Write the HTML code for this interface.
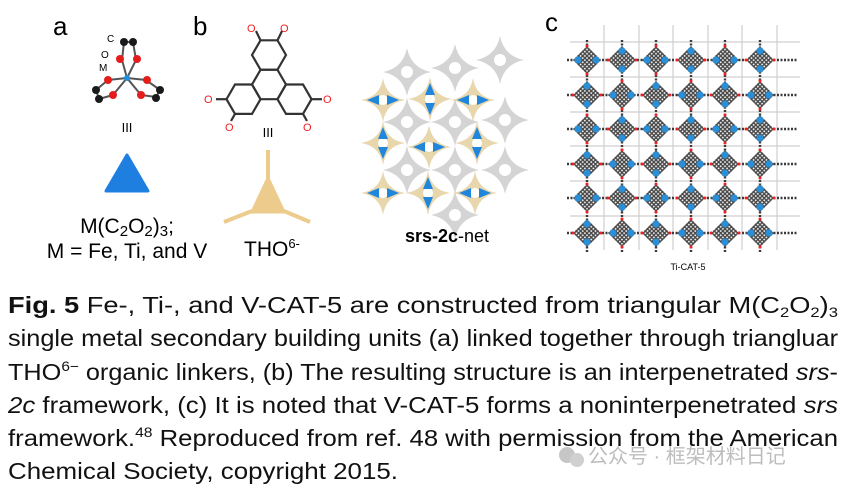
<!DOCTYPE html>
<html><head><meta charset="utf-8"><style>
html,body{margin:0;padding:0;background:#fff;width:849px;height:489px;overflow:hidden}
svg{display:block}
</style></head><body>
<svg width="849" height="489" viewBox="0 0 849 489" xmlns="http://www.w3.org/2000/svg" font-family="Liberation Sans, sans-serif">
<defs>
<g id="star">
 <path d="M0,-24 Q4,-4 24,0 Q4,4 0,24 Q-4,4 -24,0 Q-4,-4 0,-24Z" fill="#d4d4d4"/>
 <circle r="6" fill="#fff"/>
</g>
<g id="tstar">
 <path d="M0,-22 Q3,-3 22,0 Q3,3 0,22 Q-3,3 -22,0 Q-3,-3 0,-22Z" fill="#e8d6ad"/>
 <circle r="5" fill="#fff"/>
</g>
<g id="bl"><path d="M-16,0 L-4,-5 L-4,5Z" fill="#1f86dc"/><path d="M16,0 L4,-5 L4,5Z" fill="#1f86dc"/></g>
<g id="bv"><path d="M0,-16 L-5,-4 L5,-4Z" fill="#1f86dc"/><path d="M0,16 L-5,4 L5,4Z" fill="#1f86dc"/></g>
<pattern id="hatch" width="3" height="3" patternUnits="userSpaceOnUse">
 <rect width="3" height="3" fill="#444"/><rect x="0.8" y="0.8" width="1.6" height="1.6" fill="#fff"/>
</pattern>
<g id="nodeH">
 <rect x="-10" y="-10" width="20" height="20" transform="rotate(45)" fill="url(#hatch)"/>
 <circle cx="-9" r="3.6" fill="#2a8fd6"/><circle cx="9" r="3.6" fill="#2a8fd6"/>
 <circle cx="0" cy="-14" r="1.5" fill="#e22"/><circle cx="0" cy="14" r="1.5" fill="#e22"/>
</g>
<g id="nodeV">
 <rect x="-10" y="-10" width="20" height="20" transform="rotate(45)" fill="url(#hatch)"/>
 <circle cy="-9" r="3.6" fill="#2a8fd6"/><circle cy="9" r="3.6" fill="#2a8fd6"/>
 <circle cx="-14" r="1.5" fill="#e22"/><circle cx="14" r="1.5" fill="#e22"/>
</g>
<polygon id="hex" points="17,0 8.5,-14.7 -8.5,-14.7 -17,0 -8.5,14.7 8.5,14.7" fill="none" stroke="#333" stroke-width="2.2"/>
</defs>

<text x="53" y="35" font-size="26">a</text>
<text x="193" y="35" font-size="26">b</text>
<text x="545" y="31" font-size="26">c</text>

<g stroke="#555" stroke-width="2">
 <line x1="127" y1="78" x2="122" y2="60"/><line x1="127" y1="78" x2="136" y2="60"/>
 <line x1="127" y1="78" x2="108" y2="80"/><line x1="127" y1="78" x2="146" y2="80"/>
 <line x1="127" y1="78" x2="113" y2="95"/><line x1="127" y1="78" x2="141" y2="95"/>
 <line x1="122" y1="60" x2="124" y2="42"/><line x1="136" y1="60" x2="133" y2="42"/><line x1="124" y1="42" x2="133" y2="42"/>
 <line x1="108" y1="80" x2="96" y2="90"/><line x1="113" y1="95" x2="99" y2="99"/><line x1="96" y1="90" x2="99" y2="99"/>
 <line x1="146" y1="80" x2="160" y2="90"/><line x1="141" y1="95" x2="156" y2="97"/><line x1="160" y1="90" x2="156" y2="97"/>
</g>
<g fill="#1a1a1a"><circle cx="124" cy="42" r="4"/><circle cx="133" cy="42" r="4"/><circle cx="96" cy="90" r="4"/><circle cx="99" cy="99" r="4"/><circle cx="160" cy="90" r="4"/><circle cx="156" cy="98" r="4"/></g>
<g fill="#e51c1c"><circle cx="120" cy="59" r="4"/><circle cx="137" cy="59" r="4"/><circle cx="108" cy="80" r="4"/><circle cx="147" cy="80" r="4"/><circle cx="113" cy="95" r="4"/><circle cx="141" cy="95" r="4"/></g>
<circle cx="127" cy="78" r="3" fill="#1e90e0"/>
<text x="107" y="42" font-size="10">C</text><text x="101" y="58" font-size="10">O</text><text x="99" y="71" font-size="10">M</text>
<text x="127" y="132" font-size="13" text-anchor="middle">III</text>
<path d="M127,155 L148,191 L106,191Z" fill="#1f7fe0" stroke="#1f7fe0" stroke-width="3" stroke-linejoin="round"/>
<text x="127" y="233" font-size="21" text-anchor="middle">M(C<tspan font-size="15" dy="3">2</tspan><tspan dy="-3">O</tspan><tspan font-size="15" dy="3">2</tspan><tspan dy="-3">)</tspan><tspan font-size="15" dy="3">3</tspan><tspan dy="-3">;</tspan></text>
<text x="127" y="258" font-size="21" text-anchor="middle">M = Fe, Ti, and V</text>

<use href="#hex" x="269" y="55"/>
<use href="#hex" x="269" y="84.5"/>
<use href="#hex" x="243.5" y="99.2"/>
<use href="#hex" x="294.5" y="99.2"/>
<g stroke="#333" stroke-width="2.2">
 <line x1="260.5" y1="40.3" x2="256" y2="31"/><line x1="277.5" y1="40.3" x2="282" y2="31"/>
 <line x1="226.5" y1="99.2" x2="216" y2="99.2"/><line x1="235" y1="113.9" x2="231" y2="121"/>
 <line x1="311.5" y1="99.2" x2="322" y2="99.2"/><line x1="303" y1="113.9" x2="307" y2="121"/>
</g>
<g fill="#e22" font-size="11"><text x="247" y="32">O</text><text x="280" y="32">O</text><text x="204" y="103">O</text><text x="323" y="103">O</text><text x="225" y="131">O</text><text x="303" y="131">O</text></g>
<text x="268" y="137" font-size="13" text-anchor="middle">III</text>
<g fill="#eccb8c" stroke="#eccb8c">
 <path d="M268,178 L284,212 L252,212Z" stroke-width="3" stroke-linejoin="round"/>
 <line x1="268" y1="150" x2="268" y2="180" stroke-width="4"/>
 <line x1="252" y1="211" x2="224" y2="222" stroke-width="4"/>
 <line x1="284" y1="211" x2="310" y2="222" stroke-width="4"/>
</g>
<text x="244" y="256" font-size="21">THO<tspan font-size="13" dy="-8">6-</tspan></text>

<g>
 <use href="#star" x="407" y="72"/><use href="#star" x="455" y="68"/><use href="#star" x="500" y="60"/>
 <use href="#star" x="407" y="122"/><use href="#star" x="455" y="122"/><use href="#star" x="505" y="120"/>
 <use href="#star" x="407" y="170"/><use href="#star" x="455" y="170"/><use href="#star" x="505" y="170"/>
 <use href="#star" x="455" y="215"/>
 <use href="#tstar" x="383" y="100"/><use href="#tstar" x="430" y="99"/><use href="#tstar" x="473" y="100"/>
 <use href="#tstar" x="383" y="143"/><use href="#tstar" x="429" y="147"/><use href="#tstar" x="477" y="143"/>
 <use href="#tstar" x="383" y="193"/><use href="#tstar" x="428" y="193"/><use href="#tstar" x="475" y="193"/>
 <use href="#bl" x="383" y="100"/><use href="#bv" x="430" y="99"/><use href="#bl" x="473" y="100"/>
 <use href="#bv" x="383" y="143"/><use href="#bl" x="429" y="147"/><use href="#bv" x="477" y="143"/>
 <use href="#bl" x="383" y="193"/><use href="#bv" x="428" y="193"/><use href="#bl" x="475" y="193"/>
</g>
<text x="447" y="242" font-size="18" text-anchor="middle"><tspan font-weight="bold">srs-2c</tspan>-net</text>

<g stroke="#cfcfcf" stroke-width="1.2" fill="none">
 <path d="M570,42 L800,42 M570,77 L800,77 M570,112 L800,112 M570,146 L800,146 M570,181 L800,181 M570,216 L800,216"/>
 <path d="M604,25 L604,250 M639,25 L639,250 M673,25 L673,250 M708,25 L708,250 M742,25 L742,250 M777,25 L777,250"/>
</g>
<g stroke="#3a3a3a" stroke-width="2.4" stroke-dasharray="2 1.5">
 <path d="M567,60 L797,60 M567,95 L797,95 M567,129 L797,129 M567,164 L797,164 M567,198 L797,198 M567,233 L797,233"/>
 <path d="M587,40 L587,253 M622,40 L622,253 M656,40 L656,253 M691,40 L691,253 M725,40 L725,253 M760,40 L760,253"/>
</g>
<g>
 <use href="#nodeH" x="587" y="60"/><use href="#nodeV" x="622" y="60"/><use href="#nodeH" x="656" y="60"/><use href="#nodeV" x="691" y="60"/><use href="#nodeH" x="725" y="60"/><use href="#nodeV" x="760" y="60"/>
 <use href="#nodeV" x="587" y="95"/><use href="#nodeH" x="622" y="95"/><use href="#nodeV" x="656" y="95"/><use href="#nodeH" x="691" y="95"/><use href="#nodeV" x="725" y="95"/><use href="#nodeH" x="760" y="95"/>
 <use href="#nodeH" x="587" y="129"/><use href="#nodeV" x="622" y="129"/><use href="#nodeH" x="656" y="129"/><use href="#nodeV" x="691" y="129"/><use href="#nodeH" x="725" y="129"/><use href="#nodeV" x="760" y="129"/>
 <use href="#nodeV" x="587" y="164"/><use href="#nodeH" x="622" y="164"/><use href="#nodeV" x="656" y="164"/><use href="#nodeH" x="691" y="164"/><use href="#nodeV" x="725" y="164"/><use href="#nodeH" x="760" y="164"/>
 <use href="#nodeH" x="587" y="198"/><use href="#nodeV" x="622" y="198"/><use href="#nodeH" x="656" y="198"/><use href="#nodeV" x="691" y="198"/><use href="#nodeH" x="725" y="198"/><use href="#nodeV" x="760" y="198"/>
 <use href="#nodeV" x="587" y="233"/><use href="#nodeH" x="622" y="233"/><use href="#nodeV" x="656" y="233"/><use href="#nodeH" x="691" y="233"/><use href="#nodeV" x="725" y="233"/><use href="#nodeH" x="760" y="233"/>
</g>
<text x="688" y="270" font-size="9" text-anchor="middle">Ti-CAT-5</text>

<g font-size="23" fill="#111">
 <text x="8" y="313" textLength="830" lengthAdjust="spacingAndGlyphs"><tspan font-weight="bold">Fig. 5</tspan>   Fe-, Ti-, and V-CAT-5 are constructed from triangular M(C<tspan font-size="14" dy="4">2</tspan><tspan dy="-4">O</tspan><tspan font-size="14" dy="4">2</tspan><tspan dy="-4">)</tspan><tspan font-size="14" dy="4">3</tspan></text>
 <text x="8" y="346" textLength="830" lengthAdjust="spacingAndGlyphs">single metal secondary building units (a) linked together through triangluar</text>
 <text x="8" y="380" textLength="830" lengthAdjust="spacingAndGlyphs">THO<tspan font-size="14" dy="-9">6−</tspan><tspan dy="9"> organic linkers, (b) The resulting structure is an interpenetrated </tspan><tspan font-style="italic">srs</tspan>-</text>
 <text x="8" y="413" textLength="830" lengthAdjust="spacingAndGlyphs"><tspan font-style="italic">2c</tspan> framework, (c) It is noted that V-CAT-5 forms a noninterpenetrated <tspan font-style="italic">srs</tspan></text>
 <text x="8" y="446" textLength="830" lengthAdjust="spacingAndGlyphs">framework.<tspan font-size="14" dy="-9">48</tspan><tspan dy="9"> Reproduced from ref. 48 with permission from the American</tspan></text>
 <text x="8" y="479" textLength="390" lengthAdjust="spacingAndGlyphs">Chemical Society, copyright 2015.</text>
</g>
<g opacity="0.55">
 <circle cx="567" cy="455" r="8" fill="#999"/><circle cx="577" cy="460" r="7" fill="#aaa"/>
 <text x="588" y="463" font-size="20" fill="#888" font-family="Liberation Sans, Noto Sans CJK SC, sans-serif">公众号 · 框架材料日记</text>
</g>
</svg>
</body></html>
